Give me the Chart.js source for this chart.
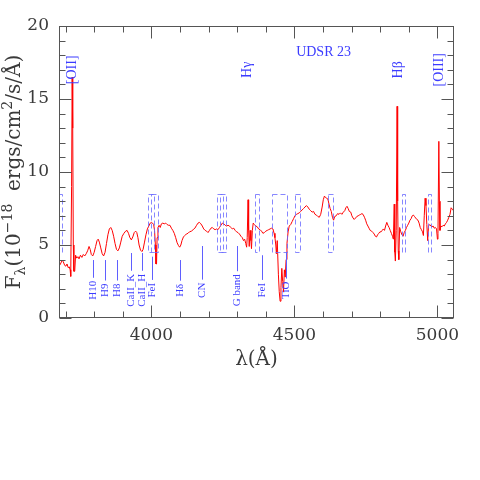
<!DOCTYPE html>
<html><head><meta charset="utf-8">
<script src="https://cdn.jsdelivr.net/npm/chart.js@4"></script>
<style>html,body{margin:0;padding:0;background:#fff}</style>
</head><body>
<canvas id="c" width="480" height="480"></canvas>
<script>
// ---- data ----
const wavelength = [3676,3682,3688,3692,3697,3701,3705,3709,3713,3716,3718,3721,3723,3725,3727,3729,3732,3735,3739,3743,3747,3752,3757,3762,3767,3772,3777,3782,3786,3790,3795,3800,3805,3810,3814,3818,3823,3828,3833,3838,3843,3848,3853,3858,3863,3868,3873,3878,3883,3888,3893,3898,3904,3910,3915,3920,3925,3930,3935,3940,3945,3949,3953,3957,3962,3967,3971,3976,3981,3986,3991,3996,4000,4004,4008,4011,4014,4016,4018,4020,4023,4027,4031,4035,4040,4045,4050,4055,4060,4065,4070,4075,4080,4085,4090,4095,4099,4103,4107,4112,4117,4122,4128,4133,4140,4146,4152,4158,4163,4168,4173,4178,4183,4188,4193,4198,4203,4208,4213,4218,4223,4228,4233,4238,4243,4248,4253,4258,4263,4268,4273,4278,4283,4288,4293,4298,4303,4308,4313,4318,4322,4326,4330,4333,4335,4338,4340,4342,4345,4348,4350,4353,4356,4360,4365,4370,4375,4380,4385,4390,4395,4400,4405,4410,4415,4420,4425,4429,4432,4435,4437,4440,4444,4447,4450,4453,4456,4459,4462,4465,4468,4471,4474,4478,4482,4487,4492,4497,4502,4507,4512,4517,4522,4527,4532,4537,4542,4547,4552,4557,4562,4567,4572,4577,4582,4587,4592,4597,4601,4605,4609,4613,4617,4621,4625,4629,4633,4637,4641,4646,4651,4656,4661,4666,4671,4676,4680,4684,4688,4692,4697,4701,4705,4709,4714,4718,4723,4727,4732,4736,4740,4745,4749,4753,4757,4761,4765,4770,4775,4779,4783,4787,4791,4795,4799,4803,4807,4811,4815,4819,4823,4827,4831,4835,4839,4843,4846,4849,4851,4853,4856,4859,4861,4863,4865,4868,4872,4876,4880,4884,4888,4892,4896,4900,4904,4908,4912,4916,4920,4924,4928,4932,4936,4940,4944,4948,4951,4954,4957,4960,4963,4966,4969,4973,4977,4981,4985,4989,4993,4997,5000,5002,5005,5007,5009,5012,5016,5020,5024,5028,5032,5036,5040,5044,5048,5052,5056,5060];
const flux = [3.5,3.7,3.95,3.85,3.6,3.55,3.7,3.45,3.5,3.3,2.85,9.0,16.5,13.0,5.0,3.2,3.2,4.3,4.1,4.2,4.05,4.3,4.15,4.35,4.25,4.4,4.6,4.9,4.7,4.35,4.25,4.5,4.9,5.3,5.4,5.2,4.8,4.4,4.25,4.5,5.1,5.7,6.1,6.2,6.0,5.6,5.1,4.7,4.6,4.8,5.2,5.6,5.8,5.95,6.0,5.8,5.5,5.35,5.55,5.85,5.95,5.85,5.5,5.0,4.65,4.55,4.7,5.2,5.7,6.1,6.3,6.5,6.55,6.5,6.4,6.0,5.0,3.7,3.7,5.5,6.2,6.35,6.2,6.45,6.5,6.45,6.5,6.4,6.35,6.35,6.15,6.0,5.8,5.5,5.15,4.95,4.85,5.0,5.3,5.55,5.65,5.75,5.8,5.9,5.95,6.05,6.15,6.35,6.5,6.55,6.45,6.3,6.1,6.0,5.95,5.85,6.0,6.15,6.2,6.1,6.05,6.1,6.05,6.2,6.35,6.5,6.45,6.35,6.3,6.35,6.3,6.2,6.1,6.15,6.0,5.9,5.85,5.75,5.6,5.5,5.3,5.4,5.1,4.85,5.5,8.1,6.0,4.9,6.0,5.3,4.75,6.0,6.5,6.4,6.3,6.25,6.1,6.05,5.95,5.8,5.85,5.95,6.0,6.05,6.1,6.15,6.1,5.8,5.5,5.0,4.4,5.3,3.0,1.8,1.15,2.1,3.4,2.5,1.8,3.3,2.8,4.0,5.1,5.9,6.3,6.4,6.6,6.8,7.0,7.1,7.15,7.2,7.3,7.4,7.5,7.6,7.7,7.6,7.45,7.35,7.25,7.3,7.1,7.05,6.95,6.9,7.1,7.6,8.1,8.35,8.25,8.2,8.15,7.8,7.5,7.3,6.9,6.7,6.95,7.0,7.15,7.1,7.2,7.1,7.25,7.35,7.55,7.65,7.5,7.3,7.25,7.0,6.85,6.75,6.85,6.95,7.0,7.05,7.1,7.15,7.1,6.9,6.7,6.45,6.3,6.15,6.0,5.95,5.85,5.75,5.6,5.55,5.7,5.8,5.9,5.9,6.0,6.1,6.0,6.3,6.55,6.35,6.2,6.0,5.8,5.6,5.4,7.8,4.5,3.9,6.0,14.5,8.0,4.6,4.0,6.2,5.9,5.7,5.6,5.85,6.0,6.2,6.35,6.5,6.7,6.8,7.0,7.05,6.95,6.85,6.75,6.7,6.5,6.2,6.05,5.9,5.65,7.0,8.2,7.7,6.4,5.3,6.3,6.4,6.3,6.25,6.3,6.15,6.2,6.1,5.4,5.8,12.1,8.0,6.0,6.3,6.25,6.35,6.3,6.45,6.55,6.7,6.9,7.1,7.55,7.45,7.35,7.3];
const xTickValues = [4000, 4500, 5000];
const yTickValues = [0, 5, 10, 15, 20];
const emissionLabels = ['[OII]', 'H\u03b3', 'H\u03b2', '[OIII]'];
const emissionWave = [3725, 4337, 4862, 5005];
const absorptionLabels = ['H10', 'H9', 'H8', 'CaII_K', 'CaII_H', 'FeI', 'H\u03b4', 'CN', 'G band', 'FeI', 'TiO'];
const absorptionWave = [3796, 3837, 3881, 3930, 3966, 4002, 4099, 4178, 4299, 4388, 4470];
const absorptionTop = [3.97, 3.97, 3.97, 4.45, 4.45, 4.2, 3.97, 4.93, 4.93, 4.3, 4.5];
const bandStart = [3650, 3988, 3998, 4229, 4239, 4364, 4420, 4501, 4617, 4876, 4967];
const bandEnd = [3686, 4010, 4022, 4250, 4262, 4377, 4474, 4519, 4635, 4886, 4977];
const objectName = 'UDSR 23';

// ---- drawing ----
const BLUE = 'rgb(60,60,255)';
const SERIF = 'DejaVu Serif';
const overlay = {
  id: 'overlay',
  afterDatasetsDraw(chart) {
    const {ctx, chartArea: a, scales: {x, y}} = chart;
    ctx.save();
    ctx.beginPath(); ctx.rect(a.left, a.top, a.right - a.left, a.bottom - a.top); ctx.clip();
    ctx.strokeStyle = 'rgba(105,105,255,0.8)'; ctx.lineWidth = 1; ctx.setLineDash([5, 3]);
    const yt = Math.round(y.getPixelForValue(8.5)) + 0.5, yb = Math.round(y.getPixelForValue(4.5)) + 0.5;
    for (let i = 0; i < bandStart.length; i++) {
      const x0 = Math.round(x.getPixelForValue(bandStart[i])) + 0.5;
      const x1 = Math.round(x.getPixelForValue(bandEnd[i])) + 0.5;
      ctx.strokeRect(x0, yt, x1 - x0, yb - yt);
    }
    ctx.restore();

    ctx.save();
    ctx.fillStyle = BLUE; ctx.strokeStyle = 'rgb(95,95,255)'; ctx.lineWidth = 1;
    // absorption labels
    ctx.font = '11px "Liberation Serif"';
    const yc = y.getPixelForValue(1.9);
    for (let i = 0; i < absorptionLabels.length; i++) {
      const px = Math.round(x.getPixelForValue(absorptionWave[i])) + 0.5;
      const w = ctx.measureText(absorptionLabels[i]).width;
      const top = y.getPixelForValue(absorptionTop[i]);
      ctx.beginPath(); ctx.moveTo(px, top); ctx.lineTo(px, yc - w / 2 - 3); ctx.stroke();
      ctx.save(); ctx.translate(px, yc); ctx.rotate(-Math.PI / 2);
      ctx.textAlign = 'center'; ctx.textBaseline = 'middle';
      ctx.fillText(absorptionLabels[i], 0, 0); ctx.restore();
    }
    // emission labels
    ctx.font = '14px "Liberation Serif"';
    const ye = y.getPixelForValue(17.0);
    for (let i = 0; i < emissionLabels.length; i++) {
      const px = x.getPixelForValue(emissionWave[i]);
      ctx.save(); ctx.translate(px, ye); ctx.rotate(-Math.PI / 2);
      ctx.textAlign = 'center'; ctx.textBaseline = 'middle';
      ctx.fillText(emissionLabels[i], 0, 0); ctx.restore();
    }
    ctx.textAlign = 'center'; ctx.textBaseline = 'middle';
    ctx.fillText(objectName, x.getPixelForValue(4602), y.getPixelForValue(18.2));
    ctx.restore();
  },
  afterDraw(chart) {
    const {ctx, chartArea: a, scales: {x, y}} = chart;
    ctx.save();
    ctx.strokeStyle = '#555'; ctx.lineWidth = 1;
    const L = Math.round(a.left) + 0.5, R = Math.round(a.right) - 0.5, T = Math.round(a.top) + 0.5, B = Math.round(a.bottom) - 0.5;
    ctx.strokeRect(L, T, R - L, B - T);
    ctx.beginPath();
    for (let v = Math.ceil(x.min / 100) * 100; v <= x.max; v += 100) {
      const px = Math.round(x.getPixelForValue(v)) + 0.5;
      const len = v % 500 === 0 ? 12 : 6;
      ctx.moveTo(px, B); ctx.lineTo(px, B - len);
      ctx.moveTo(px, T); ctx.lineTo(px, T + len);
    }
    for (let v = y.min; v <= y.max; v += 1) {
      const py = Math.round(y.getPixelForValue(v)) + 0.5;
      const len = v % 5 === 0 ? 12 : 6;
      ctx.moveTo(L, py); ctx.lineTo(L + len, py);
      ctx.moveTo(R, py); ctx.lineTo(R - len, py);
    }
    ctx.stroke();

    // x title
    ctx.fillStyle = '#3a3a3a';
    ctx.font = '20px "' + SERIF + '"';
    ctx.textAlign = 'center'; ctx.textBaseline = 'middle';
    ctx.fillText('\u03bb(\u00c5)', (a.left + a.right) / 2, a.bottom + 42);

    // y title with sub/superscripts
    const parts = [
      ['F', 20, 0], ['\u03bb', 14, 5], ['(10', 20, 0], ['\u221218', 14, -8],
      ['  ergs/cm', 20, 0], ['2', 14, -8], ['/s/\u00c5)', 20, 0]
    ];
    let total = 0;
    for (const p of parts) { ctx.font = p[1] + 'px "' + SERIF + '"'; total += ctx.measureText(p[0]).width; }
    ctx.save();
    ctx.translate(20, (a.top + a.bottom) / 2);
    ctx.rotate(-Math.PI / 2);
    ctx.textAlign = 'left'; ctx.textBaseline = 'alphabetic';
    let cx = -total / 2;
    for (const p of parts) {
      ctx.font = p[1] + 'px "' + SERIF + '"';
      ctx.fillText(p[0], cx, p[2]);
      cx += ctx.measureText(p[0]).width;
    }
    ctx.restore();
    ctx.restore();
  }
};

const points = wavelength.map((w, i) => ({x: w, y: flux[i]}));
new Chart(document.getElementById('c'), {
  type: 'line',
  data: { datasets: [{ data: points, borderColor: '#ff0000', borderWidth: 1, pointRadius: 0, tension: 0, fill: false }] },
  options: {
    responsive: false, animation: false,
    layout: { padding: { left: 0, right: 26, top: 26, bottom: 102 } },
    plugins: { legend: { display: false }, tooltip: { enabled: false } },
    scales: {
      x: {
        type: 'linear', min: 3677, max: 5058,
        grid: { display: false, drawTicks: false }, border: { display: false },
        afterBuildTicks: s => { s.ticks = xTickValues.map(v => ({value: v})); },
        afterFit: s => { s.height = 60; },
        ticks: { font: { family: SERIF, size: 17 }, color: '#3a3a3a', padding: 7, maxRotation: 0, autoSkip: false, callback: v => String(v) }
      },
      y: {
        min: 0, max: 20,
        grid: { display: false, drawTicks: false }, border: { display: false },
        afterBuildTicks: s => { s.ticks = yTickValues.map(v => ({value: v})); },
        afterFit: s => { s.width = 59; },
        ticks: { font: { family: SERIF, size: 17 }, color: '#3a3a3a', padding: 10, autoSkip: false, callback: v => String(v) }
      }
    }
  },
  plugins: [overlay]
});
</script>
</body></html>
